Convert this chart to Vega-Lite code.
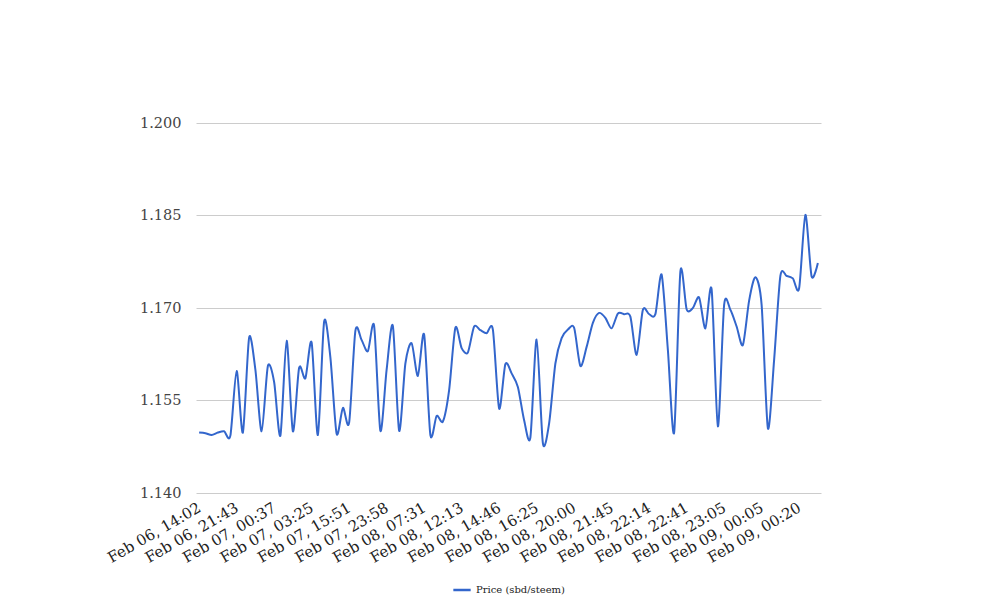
{
  "$schema": "https://vega.github.io/schema/vega-lite/v6.json",
  "width": 625,
  "height": 370,
  "autosize": "none",
  "padding": {"left": 196, "top": 123, "right": 187, "bottom": 123},
  "background": "white",
  "config": {
    "view": {"stroke": null},
    "font": "DejaVu Serif"
  },
  "data": {
    "values": [
      {"i": 0, "price": 1.1498, "series": "Price (sbd/steem)"},
      {"i": 1, "price": 1.1497, "series": "Price (sbd/steem)"},
      {"i": 2, "price": 1.1494, "series": "Price (sbd/steem)"},
      {"i": 3, "price": 1.1498, "series": "Price (sbd/steem)"},
      {"i": 4, "price": 1.1500, "series": "Price (sbd/steem)"},
      {"i": 5, "price": 1.1493, "series": "Price (sbd/steem)"},
      {"i": 6, "price": 1.1598, "series": "Price (sbd/steem)"},
      {"i": 7, "price": 1.1498, "series": "Price (sbd/steem)"},
      {"i": 8, "price": 1.1652, "series": "Price (sbd/steem)"},
      {"i": 9, "price": 1.1600, "series": "Price (sbd/steem)"},
      {"i": 10, "price": 1.1500, "series": "Price (sbd/steem)"},
      {"i": 11, "price": 1.1606, "series": "Price (sbd/steem)"},
      {"i": 12, "price": 1.1580, "series": "Price (sbd/steem)"},
      {"i": 13, "price": 1.1493, "series": "Price (sbd/steem)"},
      {"i": 14, "price": 1.1647, "series": "Price (sbd/steem)"},
      {"i": 15, "price": 1.1500, "series": "Price (sbd/steem)"},
      {"i": 16, "price": 1.1603, "series": "Price (sbd/steem)"},
      {"i": 17, "price": 1.1586, "series": "Price (sbd/steem)"},
      {"i": 18, "price": 1.1644, "series": "Price (sbd/steem)"},
      {"i": 19, "price": 1.1494, "series": "Price (sbd/steem)"},
      {"i": 20, "price": 1.1678, "series": "Price (sbd/steem)"},
      {"i": 21, "price": 1.1620, "series": "Price (sbd/steem)"},
      {"i": 22, "price": 1.1496, "series": "Price (sbd/steem)"},
      {"i": 23, "price": 1.1538, "series": "Price (sbd/steem)"},
      {"i": 24, "price": 1.1514, "series": "Price (sbd/steem)"},
      {"i": 25, "price": 1.1663, "series": "Price (sbd/steem)"},
      {"i": 26, "price": 1.1648, "series": "Price (sbd/steem)"},
      {"i": 27, "price": 1.1630, "series": "Price (sbd/steem)"},
      {"i": 28, "price": 1.1671, "series": "Price (sbd/steem)"},
      {"i": 29, "price": 1.1501, "series": "Price (sbd/steem)"},
      {"i": 30, "price": 1.1600, "series": "Price (sbd/steem)"},
      {"i": 31, "price": 1.1671, "series": "Price (sbd/steem)"},
      {"i": 32, "price": 1.1501, "series": "Price (sbd/steem)"},
      {"i": 33, "price": 1.1610, "series": "Price (sbd/steem)"},
      {"i": 34, "price": 1.1643, "series": "Price (sbd/steem)"},
      {"i": 35, "price": 1.1590, "series": "Price (sbd/steem)"},
      {"i": 36, "price": 1.1657, "series": "Price (sbd/steem)"},
      {"i": 37, "price": 1.1494, "series": "Price (sbd/steem)"},
      {"i": 38, "price": 1.1525, "series": "Price (sbd/steem)"},
      {"i": 39, "price": 1.1516, "series": "Price (sbd/steem)"},
      {"i": 40, "price": 1.1567, "series": "Price (sbd/steem)"},
      {"i": 41, "price": 1.1668, "series": "Price (sbd/steem)"},
      {"i": 42, "price": 1.1635, "series": "Price (sbd/steem)"},
      {"i": 43, "price": 1.1628, "series": "Price (sbd/steem)"},
      {"i": 44, "price": 1.1670, "series": "Price (sbd/steem)"},
      {"i": 45, "price": 1.1664, "series": "Price (sbd/steem)"},
      {"i": 46, "price": 1.1659, "series": "Price (sbd/steem)"},
      {"i": 47, "price": 1.1665, "series": "Price (sbd/steem)"},
      {"i": 48, "price": 1.1537, "series": "Price (sbd/steem)"},
      {"i": 49, "price": 1.1609, "series": "Price (sbd/steem)"},
      {"i": 50, "price": 1.1594, "series": "Price (sbd/steem)"},
      {"i": 51, "price": 1.1572, "series": "Price (sbd/steem)"},
      {"i": 52, "price": 1.1518, "series": "Price (sbd/steem)"},
      {"i": 53, "price": 1.1490, "series": "Price (sbd/steem)"},
      {"i": 54, "price": 1.1649, "series": "Price (sbd/steem)"},
      {"i": 55, "price": 1.1481, "series": "Price (sbd/steem)"},
      {"i": 56, "price": 1.1513, "series": "Price (sbd/steem)"},
      {"i": 57, "price": 1.1610, "series": "Price (sbd/steem)"},
      {"i": 58, "price": 1.1651, "series": "Price (sbd/steem)"},
      {"i": 59, "price": 1.1665, "series": "Price (sbd/steem)"},
      {"i": 60, "price": 1.1668, "series": "Price (sbd/steem)"},
      {"i": 61, "price": 1.1606, "series": "Price (sbd/steem)"},
      {"i": 62, "price": 1.1637, "series": "Price (sbd/steem)"},
      {"i": 63, "price": 1.1676, "series": "Price (sbd/steem)"},
      {"i": 64, "price": 1.1692, "series": "Price (sbd/steem)"},
      {"i": 65, "price": 1.1684, "series": "Price (sbd/steem)"},
      {"i": 66, "price": 1.1667, "series": "Price (sbd/steem)"},
      {"i": 67, "price": 1.1691, "series": "Price (sbd/steem)"},
      {"i": 68, "price": 1.1690, "series": "Price (sbd/steem)"},
      {"i": 69, "price": 1.1686, "series": "Price (sbd/steem)"},
      {"i": 70, "price": 1.1624, "series": "Price (sbd/steem)"},
      {"i": 71, "price": 1.1697, "series": "Price (sbd/steem)"},
      {"i": 72, "price": 1.1690, "series": "Price (sbd/steem)"},
      {"i": 73, "price": 1.1690, "series": "Price (sbd/steem)"},
      {"i": 74, "price": 1.1754, "series": "Price (sbd/steem)"},
      {"i": 75, "price": 1.1632, "series": "Price (sbd/steem)"},
      {"i": 76, "price": 1.1498, "series": "Price (sbd/steem)"},
      {"i": 77, "price": 1.1759, "series": "Price (sbd/steem)"},
      {"i": 78, "price": 1.1698, "series": "Price (sbd/steem)"},
      {"i": 79, "price": 1.1700, "series": "Price (sbd/steem)"},
      {"i": 80, "price": 1.1717, "series": "Price (sbd/steem)"},
      {"i": 81, "price": 1.1667, "series": "Price (sbd/steem)"},
      {"i": 82, "price": 1.1730, "series": "Price (sbd/steem)"},
      {"i": 83, "price": 1.1508, "series": "Price (sbd/steem)"},
      {"i": 84, "price": 1.1705, "series": "Price (sbd/steem)"},
      {"i": 85, "price": 1.1697, "series": "Price (sbd/steem)"},
      {"i": 86, "price": 1.1670, "series": "Price (sbd/steem)"},
      {"i": 87, "price": 1.1640, "series": "Price (sbd/steem)"},
      {"i": 88, "price": 1.1712, "series": "Price (sbd/steem)"},
      {"i": 89, "price": 1.1750, "series": "Price (sbd/steem)"},
      {"i": 90, "price": 1.1705, "series": "Price (sbd/steem)"},
      {"i": 91, "price": 1.1505, "series": "Price (sbd/steem)"},
      {"i": 92, "price": 1.1616, "series": "Price (sbd/steem)"},
      {"i": 93, "price": 1.1752, "series": "Price (sbd/steem)"},
      {"i": 94, "price": 1.1752, "series": "Price (sbd/steem)"},
      {"i": 95, "price": 1.1748, "series": "Price (sbd/steem)"},
      {"i": 96, "price": 1.1732, "series": "Price (sbd/steem)"},
      {"i": 97, "price": 1.1851, "series": "Price (sbd/steem)"},
      {"i": 98, "price": 1.1751, "series": "Price (sbd/steem)"},
      {"i": 99, "price": 1.1773, "series": "Price (sbd/steem)"}
    ]
  },
  "mark": {"type": "line", "interpolate": "cardinal", "tension": 0.2, "strokeWidth": 2},
  "encoding": {
    "x": {
      "field": "i",
      "type": "quantitative",
      "scale": {"domain": [-0.5, 99.5], "nice": false, "zero": false},
      "axis": {
        "title": null,
        "values": [0, 6, 12, 18, 24, 30, 36, 42, 48, 54, 60, 66, 72, 78, 84, 90, 96],
        "labelExpr": "['Feb 06, 14:02','Feb 06, 21:43','Feb 07, 00:37','Feb 07, 03:25','Feb 07, 15:51','Feb 07, 23:58','Feb 08, 07:31','Feb 08, 12:13','Feb 08, 14:46','Feb 08, 16:25','Feb 08, 20:00','Feb 08, 21:45','Feb 08, 22:14','Feb 08, 22:41','Feb 08, 23:05','Feb 09, 00:05','Feb 09, 00:20'][round(datum.value/6)]",
        "labelAngle": -30,
        "labelAlign": "right",
        "labelBaseline": "middle",
        "labelPadding": 13,
        "labelFont": "DejaVu Serif",
        "labelFontSize": 15,
        "labelColor": "#222222",
        "labelOverlap": false,
        "labelBound": false,
        "labelFlush": false,
        "ticks": false,
        "domain": false,
        "grid": false
      }
    },
    "y": {
      "field": "price",
      "type": "quantitative",
      "scale": {"domain": [1.14, 1.2], "nice": false, "zero": false},
      "axis": {
        "title": null,
        "values": [1.14, 1.155, 1.17, 1.185, 1.2],
        "format": ".3f",
        "labelFont": "DejaVu Serif",
        "labelFontSize": 14.5,
        "labelColor": "#444444",
        "labelPadding": 15,
        "ticks": false,
        "domain": false,
        "grid": true,
        "gridColor": "#cccccc",
        "gridWidth": 1
      }
    },
    "color": {
      "field": "series",
      "type": "nominal",
      "scale": {"range": ["#3366cc"]},
      "legend": {
        "title": null,
        "orient": "none",
        "legendX": 256,
        "legendY": 457,
        "symbolType": "stroke",
        "symbolStrokeWidth": 2.5,
        "symbolSize": 300,
        "labelFont": "DejaVu Serif",
        "labelFontSize": 10,
        "labelColor": "#222222"
      }
    }
  }
}
